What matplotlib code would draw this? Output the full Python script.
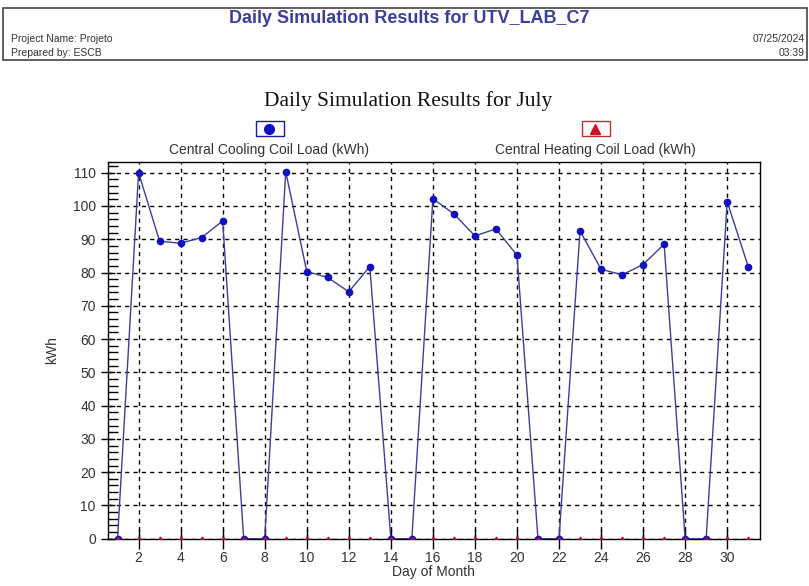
import matplotlib.pyplot as plt
from matplotlib.patches import Rectangle
from matplotlib.ticker import MultipleLocator

# daily loads for July (kWh)
days = list(range(1, 32))
cooling = [0, 110, 89.4, 88.8, 90.5, 95.5, 0, 0, 110.3, 80.3, 78.5, 74.2, 81.8, 0, 0,
           102.2, 97.6, 91.0, 93.1, 85.2, 0, 0, 92.5, 81.0, 79.3, 82.4, 88.5, 0, 0,
           101.3, 81.8]
heating = [0] * 31

fig = plt.figure(figsize=(8.09, 5.86), dpi=100)
sans = ['Liberation Sans', 'DejaVu Sans']
grey = '#333333'

# report header box
fig.patches.append(Rectangle((0.004, 0.898), 0.993, 0.089, transform=fig.transFigure,
                             fill=False, edgecolor='#444444', linewidth=1.2))
fig.text(0.506, 0.968, "Daily Simulation Results for UTV_LAB_C7", ha='center', va='center',
         fontsize=13, fontweight='bold', color='#3b3f9c', family=sans)
fig.text(0.013, 0.934, "Project Name: Projeto", ha='left', va='center', fontsize=7.5, color=grey, family=sans)
fig.text(0.013, 0.910, "Prepared by: ESCB", ha='left', va='center', fontsize=7.5, color=grey, family=sans)
fig.text(0.995, 0.934, "07/25/2024", ha='right', va='center', fontsize=7.5, color=grey, family=sans)
fig.text(0.995, 0.910, "03:39", ha='right', va='center', fontsize=7.5, color=grey, family=sans)

fig.text(0.505, 0.827, "Daily Simulation Results for July", ha='center', va='center',
         fontsize=15.5, color='#111111', family=['Liberation Serif', 'DejaVu Serif'])

ax = fig.add_axes([0.1331, 0.0807, 0.8063, 0.6428])

ax.plot(days, cooling, color='#3b3f9a', linewidth=1.0, marker='o', markersize=4.5,
        markerfacecolor='#1010c0', markeredgecolor='#1010c0', zorder=3)
ax.plot(days, heating, linestyle='none', marker='^', markersize=3.5,
        markerfacecolor='#b01030', markeredgecolor='#b01030', zorder=4)

ax.set_xlim(0.53, 31.56)
ax.set_ylim(0, 113.2)
ax.xaxis.set_major_locator(MultipleLocator(2))
ax.yaxis.set_major_locator(MultipleLocator(10))
ax.yaxis.set_minor_locator(MultipleLocator(2))
ax.tick_params(axis='y', which='major', direction='inout', length=10, width=1, colors='black',
               labelcolor=grey, labelsize=10)
ax.tick_params(axis='y', which='minor', direction='in', length=7, width=1)
ax.tick_params(axis='x', which='major', direction='inout', length=14, width=1, colors='black',
               labelcolor=grey, labelsize=10, pad=2)
for lab in ax.get_xticklabels() + ax.get_yticklabels():
    lab.set_family(sans)

ax.grid(True, which='major', color='black', linestyle=(0, (3, 3)), linewidth=1.0)
for s in ax.spines.values():
    s.set_linewidth(1.0)

ax.set_ylabel("kWh", fontsize=10, color=grey, family=sans, labelpad=10)
ax.set_xlabel("Day of Month", fontsize=10, color=grey, family=sans, labelpad=0)

# legend entries above the plot
leg = [(0.333, "Central Cooling Coil Load (kWh)", 'o', '#1010c0', '#1a1aa0'),
       (0.736, "Central Heating Coil Load (kWh)", '^', '#d01020', '#c03030')]
for x, label, mk, mc, ec in leg:
    fig.patches.append(Rectangle((x - 0.017, 0.768), 0.035, 0.025, transform=fig.transFigure,
                                 fill=False, edgecolor=ec, linewidth=1.0))
    fig.add_artist(plt.Line2D([x], [0.7805], transform=fig.transFigure, marker=mk,
                              markersize=7, color=mc, linestyle='none'))
    fig.text(x, 0.744, label, ha='center', va='center', fontsize=10, color=grey, family=sans)

plt.savefig("out.png", dpi=100)
